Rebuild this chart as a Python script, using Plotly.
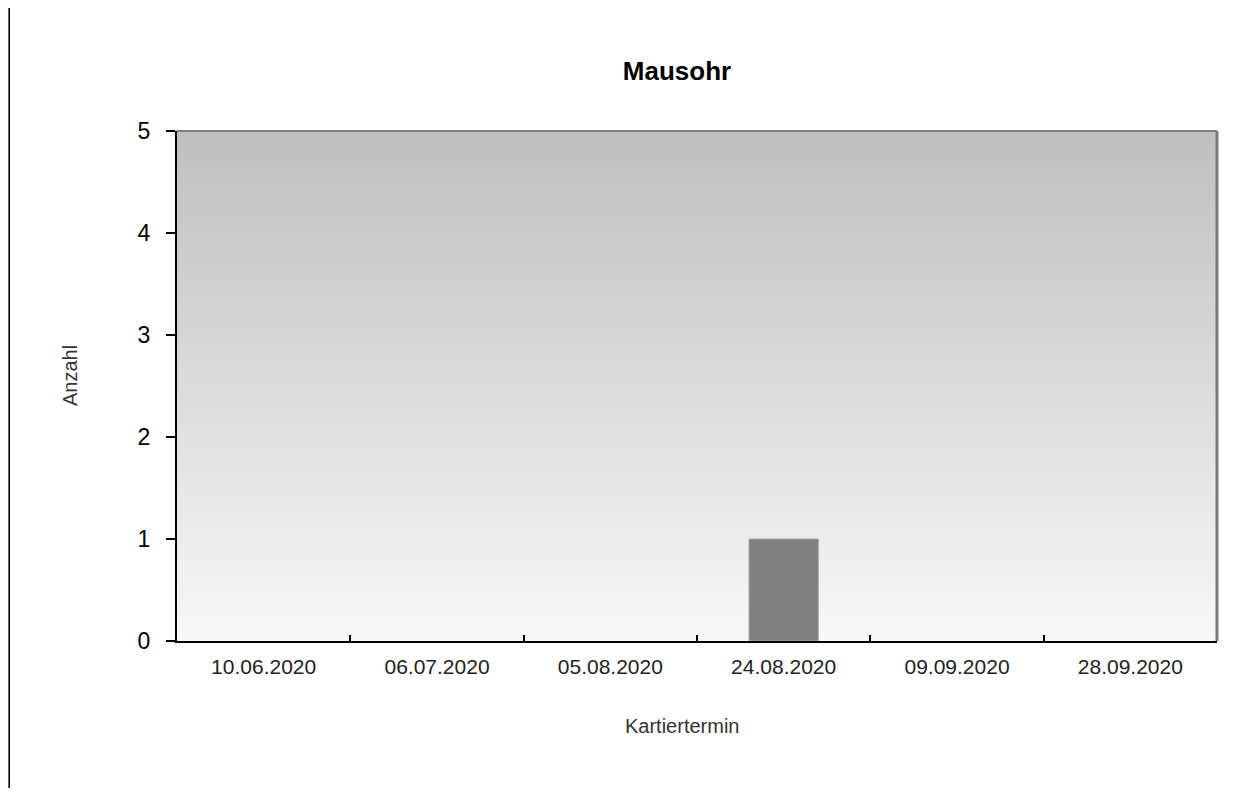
import plotly.graph_objects as go

title = "Mausohr"
categories = ["10.06.2020", "06.07.2020", "05.08.2020", "24.08.2020", "09.09.2020", "28.09.2020"]
values = [0, 0, 0, 1, 0, 0]
y_ticks = [0, 1, 2, 3, 4, 5]
x_title = "Kartiertermin"
y_title = "Anzahl"

# the page body has an 8px margin, so the figure is sized to sit inside it
OFF = 8
W, H = 1252 - 2 * OFF, 796 - 2 * OFF
ML = 177 - OFF
MT = 131 - OFF
MR = W - (1217 - OFF)
MB = H - (641 - OFF)
FONT = "Liberation Sans, Arial, sans-serif"

fig = go.Figure()
fig.add_trace(go.Bar(
    x=categories, y=values, width=0.4,
    marker=dict(color="#808080",
                line=dict(color="#a8a8a8", width=[1 if v > 0 else 0 for v in values])),
    showlegend=False, hoverinfo="x+y",
))

shapes = []
n = 80
top_c, bot_c = 191, 248
for i in range(n):
    t = i / n
    c = round(bot_c + (top_c - bot_c) * (t + 0.5 / n))
    shapes.append(dict(type="rect", xref="x domain", yref="y domain",
                       x0=0, x1=1, y0=t, y1=(i + 1) / n + 0.002,
                       fillcolor=f"rgb({c},{c},{c})", line=dict(width=0), layer="below"))
shapes.append(dict(type="line", xref="x domain", yref="y domain", x0=0, x1=1, y0=1, y1=1,
                   line=dict(color="#808080", width=2)))
shapes.append(dict(type="line", xref="x domain", yref="y domain", x0=1, x1=1, y0=0, y1=1,
                   line=dict(color="#7a7a7a", width=3)))
pw = W - ML - MR
ph = H - MT - MB
lx = (1.2 - ML) / pw
shapes.append(dict(type="line", xref="paper", yref="paper",
                   x0=lx, x1=lx, y0=(H - MB + 2) / ph, y1=(H - MB - H - 2) / ph,
                   line=dict(color="#000000", width=1.6)))


def px_x(page_x):
    return (page_x - OFF - ML) / pw


def px_y(page_y):
    return (H - MB - (page_y - OFF)) / ph


annotations = [
    dict(text=x_title, xref="paper", yref="paper", x=px_x(682), y=px_y(726),
         xanchor="center", yanchor="middle", showarrow=False,
         font=dict(size=20, family=FONT, color="#333333")),
    dict(text=y_title, xref="paper", yref="paper", x=px_x(70), y=px_y(376),
         xanchor="center", yanchor="middle", showarrow=False, textangle=-90,
         font=dict(size=20, family=FONT, color="#333333")),
]

fig.update_layout(
    width=W, height=H,
    margin=dict(l=ML, r=MR, t=MT, b=MB),
    paper_bgcolor="white", plot_bgcolor="rgba(0,0,0,0)",
    font=dict(family=FONT, color="#000000"),
    title=dict(text=f"<b>{title}</b>", x=(677 - OFF) / W, xref="container", xanchor="center",
               y=1 - (71 - OFF) / H, yref="container", yanchor="middle",
               font=dict(size=26, family=FONT, color="#000000")),
    shapes=shapes,
    annotations=annotations,
    bargap=0.6,
)
fig.update_xaxes(
    type="category", categoryorder="array", categoryarray=categories,
    showline=True, linecolor="#000000", linewidth=2,
    ticks="inside", tickson="boundaries", ticklen=6, tickwidth=2, tickcolor="#000000",
    tickfont=dict(size=21, family=FONT, color="#222222"), ticklabelstandoff=6,
    showgrid=False, zeroline=False,
)
fig.update_yaxes(
    range=[0, 5], tickmode="array", tickvals=y_ticks, ticktext=[str(v) for v in y_ticks],
    showline=True, linecolor="#000000", linewidth=2,
    ticks="outside", ticklen=9, tickwidth=2, tickcolor="#000000",
    tickfont=dict(size=23, family=FONT, color="#000000"), ticklabelstandoff=11,
    showgrid=False, zeroline=False,
)

fig.write_html("out.html")
